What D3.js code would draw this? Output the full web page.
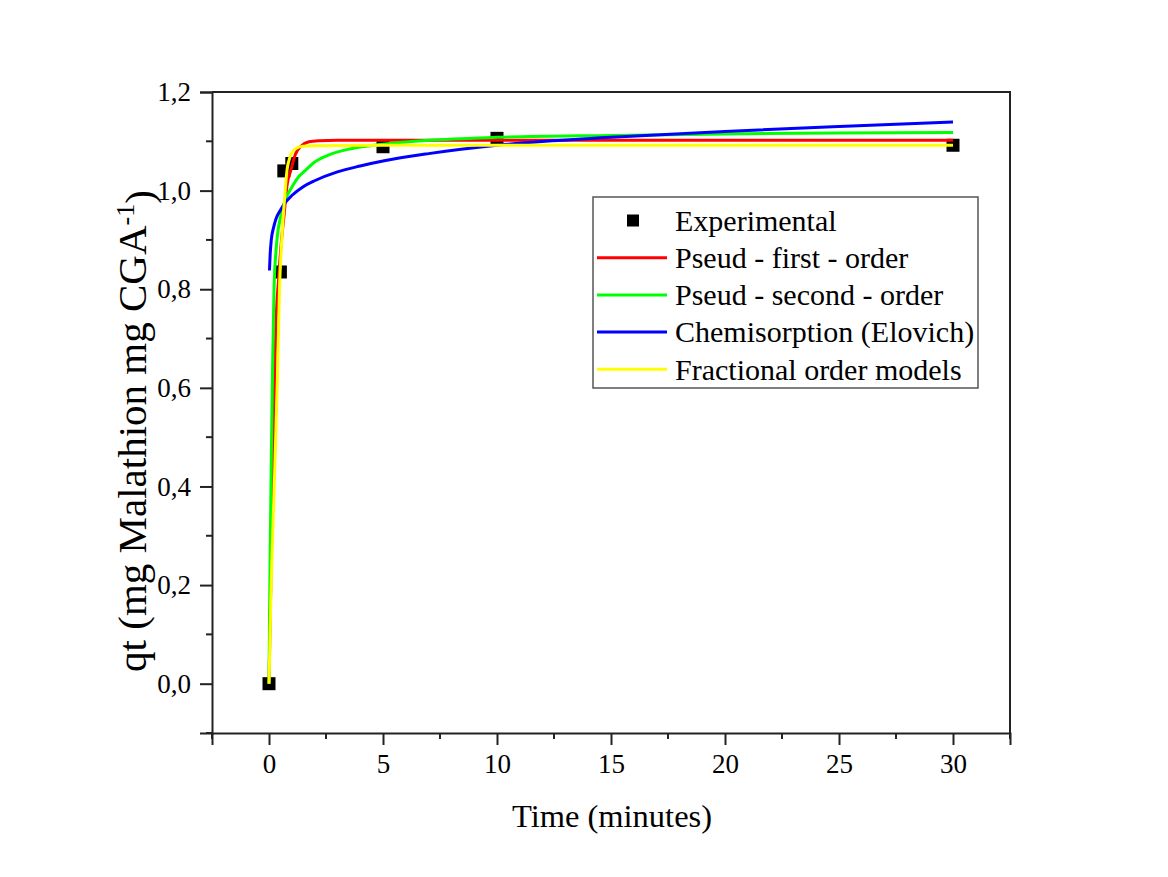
<!DOCTYPE html>
<html>
<head>
<meta charset="utf-8">
<script src="https://cdn.jsdelivr.net/npm/d3@7"></script>
<style>
  body { margin: 0; background: #fff; }
  text { font-family: "Liberation Serif", "Times New Roman", serif; fill: #000; }
</style>
</head>
<body>
<svg width="1168" height="877"></svg>
<script>
// Experimental points (time in minutes, qt)
const expTime = [0, 0.5, 0.65, 1.0, 5, 10, 30];
const expQt = [0, 0.835, 1.04, 1.055, 1.089, 1.106, 1.092];

// Fitted curves
const firstTime = [0, 0.05, 0.13, 0.22, 0.3, 0.42, 0.55, 0.66, 0.8, 0.95, 1.17, 1.4, 1.75, 2.2, 3, 5, 10, 20, 30];
const firstQt = [0, 0.13, 0.32, 0.55, 0.72, 0.82, 0.9, 0.95, 1.014, 1.04, 1.075, 1.09, 1.099, 1.101, 1.102, 1.102, 1.102, 1.102, 1.102];

const secondTime = [0, 0.03, 0.09, 0.15, 0.22, 0.36, 0.5, 0.66, 1.0, 1.3, 1.6, 2.0, 2.6, 3.6, 5, 7, 10, 15, 20, 25, 30];
const secondQt = [0, 0.17, 0.415, 0.62, 0.8, 0.905, 0.945, 0.974, 1.007, 1.028, 1.041, 1.058, 1.072, 1.085, 1.094, 1.102, 1.108, 1.112, 1.115, 1.117, 1.118];

const elovichTime = [0.02, 0.05, 0.1, 0.2, 0.3, 0.5, 0.7, 1.0, 1.5, 2, 3, 4, 5, 7, 10, 15, 20, 25, 30];
const elovichQt = [0.838, 0.87, 0.9, 0.925, 0.942, 0.96, 0.975, 0.99, 1.008, 1.02, 1.038, 1.05, 1.06, 1.075, 1.092, 1.108, 1.12, 1.13, 1.139];

const fractionalTime = [0, 0.04, 0.08, 0.16, 0.24, 0.37, 0.46, 0.56, 0.66, 0.8, 0.9, 1.0, 1.2, 1.5, 2, 5, 10, 20, 30];
const fractionalQt = [0, 0.08, 0.17, 0.3, 0.415, 0.62, 0.8, 0.9, 0.97, 1.045, 1.065, 1.077, 1.086, 1.09, 1.091, 1.092, 1.092, 1.092, 1.092];

// Ticks
const xMajor = [0, 5, 10, 15, 20, 25, 30];
const xMinor = [-2.5, 2.5, 7.5, 12.5, 17.5, 22.5, 27.5, 32.5];
const yMajor = [0, 0.2, 0.4, 0.6, 0.8, 1.0, 1.2];
const yMinor = [-0.1, 0.1, 0.3, 0.5, 0.7, 0.9, 1.1];

const models = [
  {name: "Pseud - first - order", color: "#ff0000", t: firstTime, q: firstQt},
  {name: "Pseud - second - order", color: "#00ff00", t: secondTime, q: secondQt},
  {name: "Chemisorption (Elovich)", color: "#0000ff", t: elovichTime, q: elovichQt},
  {name: "Fractional order models", color: "#ffff00", t: fractionalTime, q: fractionalQt},
];

function draw() {
  const svg = d3.select("svg");

  const margin = {top: 92, right: 158, bottom: 144, left: 212};
  const width = +svg.attr("width") - margin.left - margin.right;
  const height = +svg.attr("height") - margin.top - margin.bottom;

  const x = d3.scaleLinear().domain([-2.5, 32.5]).range([0, width]);
  const y = d3.scaleLinear().domain([-0.1, 1.2]).range([height, 0]);

  const g = svg.append("g")
    .attr("transform", "translate(" + margin.left + "," + margin.top + ")");

  // Frame (top and right)
  g.append("path")
    .attr("d", "M0,0H" + width + "V" + height)
    .attr("fill", "none")
    .attr("stroke", "#222")
    .attr("stroke-width", 2);

  // X axis with major/minor ticks
  const xAxis = g.append("g")
    .attr("transform", "translate(0," + height + ")")
    .call(d3.axisBottom(x).tickValues(xMajor).tickSize(12).tickPadding(9)
      .tickFormat(d3.format("d")));
  xAxis.append("g").selectAll("line")
    .data(xMinor)
    .join("line")
    .attr("x1", d => x(d)).attr("x2", d => x(d))
    .attr("y1", 0).attr("y2", 6)
    .attr("stroke", "#222").attr("stroke-width", 2);

  // Y axis, decimals with comma
  const yAxis = g.append("g")
    .call(d3.axisLeft(y).tickValues(yMajor).tickSize(12).tickPadding(9)
      .tickFormat(d => d3.format(".1f")(d).replace(".", ",")));
  yAxis.append("g").selectAll("line")
    .data(yMinor)
    .join("line")
    .attr("x1", 0).attr("x2", -6)
    .attr("y1", d => y(d)).attr("y2", d => y(d))
    .attr("stroke", "#222").attr("stroke-width", 2);

  [xAxis, yAxis].forEach(a => {
    a.select(".domain").attr("stroke", "#222").attr("stroke-width", 2);
    a.selectAll(".tick line").attr("stroke", "#222").attr("stroke-width", 2);
    a.selectAll(".tick text")
      .style("font-family", "'Liberation Serif', serif")
      .style("font-size", "27px")
      .attr("fill", "#000");
  });
  xAxis.selectAll(".tick text").attr("dy", "0.7em");

  // Axis titles
  svg.append("text")
    .attr("x", 612)
    .attr("y", 827)
    .attr("text-anchor", "middle")
    .style("font-size", "32.5px")
    .text("Time (minutes)");

  const yTitle = svg.append("text")
    .attr("transform", "translate(146,431) rotate(-90)")
    .attr("text-anchor", "middle")
    .style("font-size", "41px");
  yTitle.append("tspan").text("qt (mg Malathion mg CGA");
  yTitle.append("tspan").attr("dy", "-0.45em").style("font-size", "26px").text("-1");
  yTitle.append("tspan").attr("dy", "0.45em").text(")");

  // Experimental points (drawn under the curves)
  const pts = expTime.map((t, i) => ({t: t, q: expQt[i]}));
  g.selectAll("rect.pt")
    .data(pts)
    .join("rect")
    .attr("class", "pt")
    .attr("x", d => x(d.t) - 6.5)
    .attr("y", d => y(d.q) - 6.5)
    .attr("width", 13)
    .attr("height", 13)
    .attr("fill", "#000");

  // Model curves
  const line = d3.line()
    .x(d => x(d.t))
    .y(d => y(d.q))
    .curve(d3.curveMonotoneX);

  models.forEach(m => {
    const data = m.t.map((t, i) => ({t: t, q: m.q[i]}));
    g.append("path")
      .datum(data)
      .attr("d", line)
      .attr("fill", "none")
      .attr("stroke", m.color)
      .attr("stroke-width", 3);
  });

  // Legend
  const legend = svg.append("g").attr("transform", "translate(593,197)");
  legend.append("rect")
    .attr("width", 385)
    .attr("height", 191)
    .attr("fill", "none")
    .attr("stroke", "#555")
    .attr("stroke-width", 1.5);

  const rowY = i => 23.5 + i * 37.2;
  legend.append("rect")
    .attr("x", 40 - 6)
    .attr("y", rowY(0) - 6)
    .attr("width", 12)
    .attr("height", 12)
    .attr("fill", "#000");

  const names = ["Experimental"].concat(models.map(m => m.name));
  legend.selectAll("text")
    .data(names)
    .join("text")
    .attr("x", 82)
    .attr("y", (d, i) => rowY(i))
    .attr("dy", "0.34em")
    .style("font-size", "30px")
    .text(d => d);

  legend.selectAll("line")
    .data(models)
    .join("line")
    .attr("x1", 4).attr("x2", 74)
    .attr("y1", (d, i) => rowY(i + 1))
    .attr("y2", (d, i) => rowY(i + 1))
    .attr("stroke", d => d.color)
    .attr("stroke-width", 3);
}

window.addEventListener("load", draw);
</script>
</body>
</html>
